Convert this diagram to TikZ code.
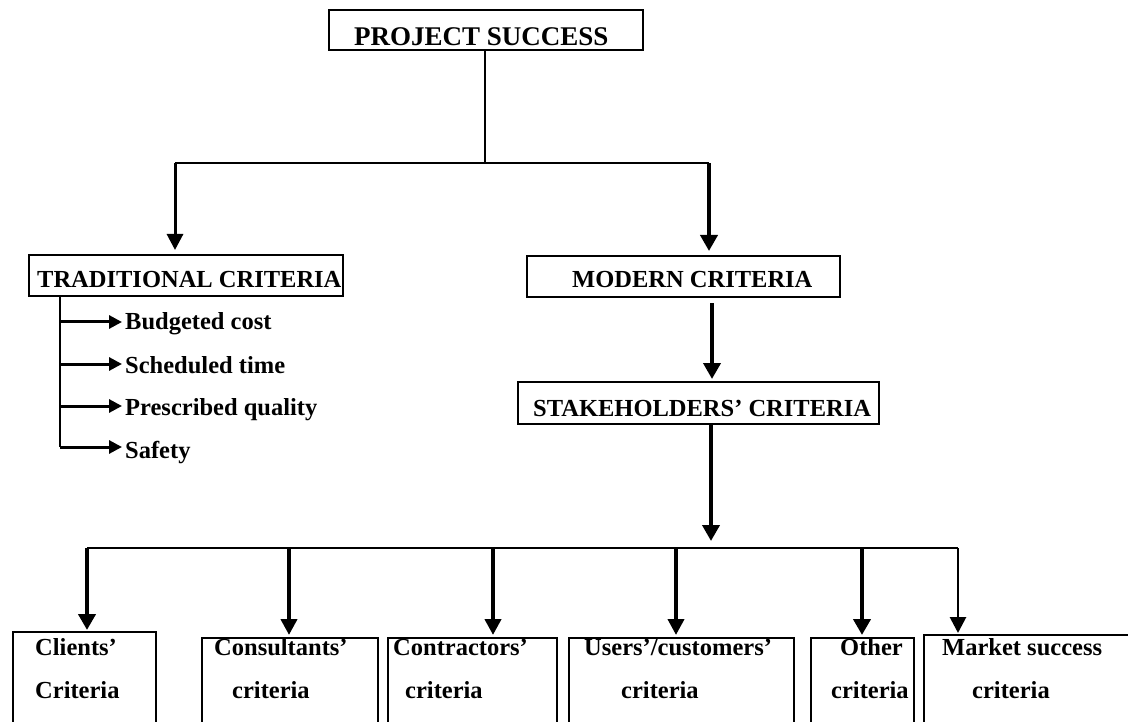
\documentclass[tikz,border=0pt]{standalone}
\usepackage{fontspec}
\setmainfont{Liberation Serif}
\usetikzlibrary{arrows.meta,calc}

\begin{document}
\begin{tikzpicture}[
  x=1pt, y=-1pt,
  box/.style={draw, line width=2.2pt, inner sep=0pt, anchor=north west},
  txt/.style={font=\fontsize{24.5}{28}\selectfont\bfseries, inner sep=0pt, anchor=base west},
  ttl/.style={font=\fontsize{27}{30}\selectfont\bfseries, inner sep=0pt, anchor=base west},
  plain/.style={line width=2.2pt},
  bigarrow/.style={line width=3.8pt, -{Triangle[length=16pt,width=17pt]}},
  midarrow/.style={line width=3pt, -{Triangle[length=16pt,width=16pt]}},
  subarrow/.style={line width=3pt, -{Triangle[length=13pt,width=13pt]}},
]
\useasboundingbox (0,0) rectangle (1128,722);
\clip (0,0) rectangle (1128,722);
\fill[white] (0,0) rectangle (1128,722);

% ---- boxes ----
\node[box, minimum width=314pt, minimum height=40pt] (ps)    at (328,9)   {};
\node[box, minimum width=314pt, minimum height=41pt] (trad)  at (28,254)  {};
\node[box, minimum width=313pt, minimum height=41pt] (mod)   at (526,255) {};
\node[box, minimum width=361pt, minimum height=42pt] (stake) at (517,381) {};

\node[box, minimum width=143pt, minimum height=120pt] (cli) at (12,631)  {};
\node[box, minimum width=176pt, minimum height=120pt] (con) at (201,637) {};
\node[box, minimum width=169pt, minimum height=120pt] (ctr) at (387,637) {};
\node[box, minimum width=225pt, minimum height=120pt] (usr) at (568,637) {};
\node[box, minimum width=103pt, minimum height=120pt] (oth) at (810,637) {};
\node[box, minimum width=230pt, minimum height=120pt] (mkt) at (923,634) {};

% ---- box texts ----
\node[ttl] (tps)    at (354,46)  {PROJECT SUCCESS};
\node[txt] (ttrad)  at (37,288)  {TRADITIONAL CRITERIA};
\node[txt] (tmod)   at (572,288) {MODERN CRITERIA};
\node[txt] (tstake) at (533,416) {STAKEHOLDERS’ CRITERIA};

\node[txt] (tcli1) at (35,655)  {Clients’};
\node[txt] (tcli2) at (35,698)  {Criteria};
\node[txt] (tcon1) at (214,655) {Consultants’};
\node[txt] (tcon2) at (232,698) {criteria};
\node[txt] (tctr1) at (393,655) {Contractors’};
\node[txt] (tctr2) at (405,698) {criteria};
\node[txt] (tusr1) at (584,655) {Users’/customers’};
\node[txt] (tusr2) at (621,698) {criteria};
\node[txt] (toth1) at (840,655) {Other};
\node[txt] (toth2) at (831,698) {criteria};
\node[txt] (tmkt1) at (942,655) {Market success};
\node[txt] (tmkt2) at (972,698) {criteria};

% ---- traditional criteria list ----
\node[txt] (b1) at (125,330) {Budgeted cost};
\node[txt] (b2) at (125,373) {Scheduled time};
\node[txt] (b3) at (125,415) {Prescribed quality};
\node[txt] (b4) at (125,458) {Safety};

% ---- junction points ----
\coordinate (jPS) at (485,163);
\coordinate (jL)  at (175,163);
\coordinate (jR)  at (709,163);
\coordinate (mx)  at (712,0);
\coordinate (sJ)  at (711,548);
\coordinate (busL) at (87,548);
\coordinate (busR) at (958,548);
\coordinate (d2) at (289,548);
\coordinate (d3) at (493,548);
\coordinate (d4) at (676,548);
\coordinate (d5) at (862,548);
\coordinate (lx)  at (60,0);
\coordinate (l1)  at (60,322);
\coordinate (l2)  at (60,364);
\coordinate (l3)  at (60,406);
\coordinate (l4)  at (60,447);
\coordinate (tx)  at (122,0);

% ---- top level connectors ----
\draw[plain] (ps.south -| jPS) -- (jPS);
\draw[plain] (jL) -- (jR);
\draw[midarrow, shorten >=4pt] (jL) -- (jL |- trad.north);
\draw[bigarrow, shorten >=4pt] (jR) -- (jR |- mod.north);
\draw[bigarrow, shorten <=5pt, shorten >=2pt] (mod.south -| mx) -- (stake.north -| mx);

% ---- traditional list connectors ----
\draw[line width=2.6pt] (trad.south -| lx) -- (l4);
\draw[subarrow] (l1) -- (l1 -| tx);
\draw[subarrow] (l2) -- (l2 -| tx);
\draw[subarrow] (l3) -- (l3 -| tx);
\draw[subarrow] (l4) -- (l4 -| tx);

% ---- stakeholders to categories ----
\draw[bigarrow, shorten >=7pt] (stake.south -| sJ) -- (sJ);
\draw[plain] (busL) -- (busR);
\draw[line width=4.6pt, -{Triangle[length=16pt,width=17pt]}, shorten >=1pt] (busL) -- (busL |- cli.north);
\draw[midarrow, line width=4pt, shorten >=2pt] (d2) -- (d2 |- con.north);
\draw[midarrow, line width=4pt, shorten >=2pt] (d3) -- (d3 |- ctr.north);
\draw[midarrow, line width=3.8pt, shorten >=2pt] (d4) -- (d4 |- usr.north);
\draw[line width=4.8pt, -{Triangle[length=16pt,width=17pt]}, shorten >=2pt] (d5) -- (d5 |- oth.north);
\draw[midarrow, line width=2.8pt, shorten >=1pt] (busR) -- (busR |- mkt.north);
\end{tikzpicture}
\end{document}
